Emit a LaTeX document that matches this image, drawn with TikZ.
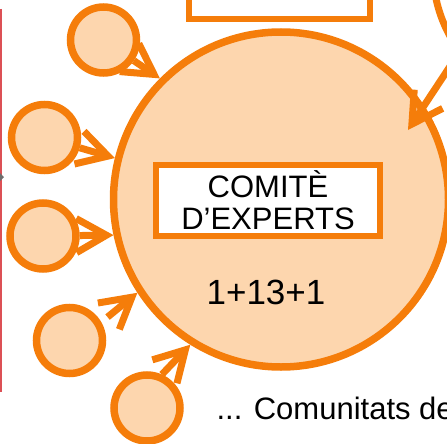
\documentclass[tikz,border=0pt]{standalone}
\usepackage{fontspec}
\setmainfont{Liberation Sans}
\usetikzlibrary{arrows.meta}
\definecolor{cmOrange}{RGB}{245,125,10}
\definecolor{cmPeach}{RGB}{253,214,174}
\definecolor{cmRed}{RGB}{220,80,85}
\definecolor{cmGray}{RGB}{110,110,110}
\tikzset{
    member/.style={
        circle,
        draw=cmOrange,
        line width=7.5pt,
        fill=cmPeach,
        minimum size=66pt,
        inner sep=0pt
    },
    committee/.style={
        circle,
        draw=cmOrange,
        line width=7.5pt,
        fill=cmPeach,
        minimum size=335pt,
        inner sep=0pt
    },
    titlebox/.style={
        rectangle,
        draw=cmOrange,
        line width=6pt,
        fill=white,
        minimum width=224pt,
        minimum height=71pt,
        align=center,
        font=\fontsize{31}{32}\selectfont
    },
    feed/.style={
        -{Straight Barb[length=30pt, width=34pt]},
        draw=cmOrange,
        line width=7pt
    }
}

\begin{document}
\begin{tikzpicture}[x=1pt, y=-1pt]
  \useasboundingbox (0,0) rectangle (447,444);
  \clip (0,0) rectangle (447,444);

  % Side rule
  \draw[cmRed, line width=2pt] (1,9) -- (1,392);
  \fill[cmGray] (0,173) -- (4,177) -- (0,181) -- cycle;

  % Box above and neighbouring circle
  \node[rectangle, draw=cmOrange, line width=6pt, fill=white, minimum width=181pt, minimum height=78pt] (upper) at (279.5,-20) {};
  \node[circle, draw=cmOrange, line width=7pt, minimum size=274pt] (neighbour) at (570,-30) {};

  % Committee
  \node[committee] (comite) at (281,199.5) {};
  \node[titlebox] (title) at (268,200.5) {COMITÈ\\D’EXPERTS};
  \node[font=\fontsize{35}{42}\selectfont, anchor=base] (count) at (266,304) {1+13+1};

  % Members
  \node[member] (m1) at (103.5,40) {};
  \node[member] (m2) at (44.5,137.5) {};
  \node[member] (m3) at (43,236) {};
  \node[member] (m4) at (69.5,340.5) {};
  \node[member] (m5) at (147,408) {};

  % Arrows
  \draw[feed] (m1) -- (comite.135);
  \draw[feed] (m2) -- (comite.166);
  \draw[feed] (m3) -- (comite.192);
  \draw[feed, shorten <=8pt] (m4.30) -- (comite.213);
  \draw[feed] (m5.66) -- (comite.238);
  \coordinate (from) at (474,30);
  \coordinate (into) at (408,130);
  \draw[feed] (from) -- (into);

  % Caption
  \node[font=\fontsize{31}{37}\selectfont, anchor=base west] (caption) at (213,419) {... Comunitats de};
\end{tikzpicture}
\end{document}
